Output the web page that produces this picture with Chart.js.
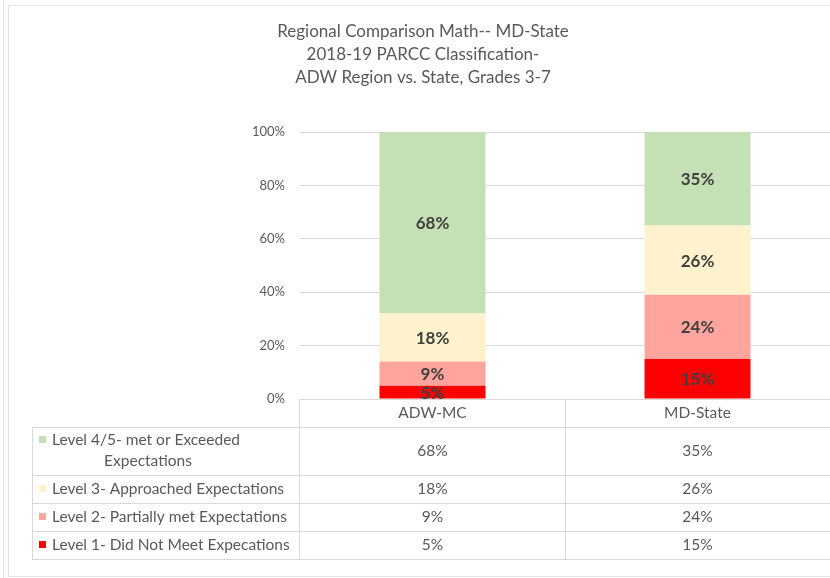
<!DOCTYPE html>
<html>
<head>
    <title>Regional Comparison Math</title>
    <script src="https://cdn.jsdelivr.net/npm/chart.js"></script>
    <style>
        body { margin: 0; background: #fff; overflow: hidden; }
    </style>
</head>
<body>
    <canvas id="chart" width="830" height="578"></canvas>

    <script>
        // chart data
        const categories = ['ADW-MC', 'MD-State'];
        const level1 = [5, 15];
        const level2 = [9, 24];
        const level3 = [18, 26];
        const level45 = [68, 35];
        const yTicks = [0, 20, 40, 60, 80, 100];
        const titleLines = [
            'Regional Comparison Math-- MD-State',
            '2018-19 PARCC Classification-',
            'ADW Region vs. State, Grades 3-7'
        ];

        const seriesNames = [
            'Level 1- Did Not Meet Expecations',
            'Level 2- Partially met Expectations',
            'Level 3- Approached Expectations',
            'Level 4/5- met or Exceeded Expectations'
        ];
        const seriesColors = ['#FF0000', '#FFA59D', '#FFF2CC', '#C5E0B4'];
        const seriesValues = [level1, level2, level3, level45];

        const FONT = 'Lato, "Open Sans", sans-serif';
        const GRAY = '#595959';
        const LINE = '#d9d9d9';

        function hline(ctx, x1, x2, y) {
            ctx.beginPath();
            ctx.moveTo(x1, y + 0.5);
            ctx.lineTo(x2, y + 0.5);
            ctx.stroke();
        }
        function vline(ctx, x, y1, y2) {
            ctx.beginPath();
            ctx.moveTo(x + 0.5, y1);
            ctx.lineTo(x + 0.5, y2);
            ctx.stroke();
        }

        const extras = {
            id: 'extras',
            afterDraw(chart) {
                const ctx = chart.ctx;
                const area = chart.chartArea;
                const xs = chart.scales.x;
                ctx.save();

                // outer frame
                ctx.strokeStyle = '#e3e3e3';
                ctx.lineWidth = 1;
                vline(ctx, 3, 0, 578);
                vline(ctx, 8, 5, 576);
                hline(ctx, 8, 830, 5);
                hline(ctx, 8, 830, 576);

                // title
                ctx.fillStyle = GRAY;
                ctx.font = '17px ' + FONT;
                ctx.textAlign = 'center';
                ctx.textBaseline = 'middle';
                titleLines.forEach((t, i) => ctx.fillText(t, 423, 32 + i * 23));

                // data labels
                ctx.font = 'bold 17px ' + FONT;
                ctx.fillStyle = '#404040';
                chart.data.datasets.forEach((ds, di) => {
                    chart.getDatasetMeta(di).data.forEach((bar, i) => {
                        ctx.fillText(ds.data[i] + '%', bar.x, (bar.y + bar.base) / 2 + 1);
                    });
                });

                // data table
                const top = area.bottom;
                const tableLeft = 32;
                const colLeft = area.left - 1;
                const colMid = Math.round((xs.getPixelForValue(0) + xs.getPixelForValue(1)) / 2);
                const right = area.right;
                const rowH = [28, 48, 28, 28, 28];
                const rowY = [top];
                rowH.forEach(h => rowY.push(rowY[rowY.length - 1] + h));

                ctx.strokeStyle = LINE;
                hline(ctx, colLeft, right, rowY[0]);
                for (let r = 1; r < rowY.length; r++) hline(ctx, tableLeft, right, rowY[r]);
                vline(ctx, tableLeft, rowY[1], rowY[rowY.length - 1]);
                vline(ctx, colLeft, rowY[0], rowY[rowY.length - 1]);
                vline(ctx, colMid, rowY[0], rowY[rowY.length - 1]);

                ctx.font = '15.5px ' + FONT;
                ctx.fillStyle = GRAY;
                ctx.textAlign = 'center';
                categories.forEach((c, i) => {
                    ctx.fillText(c, xs.getPixelForValue(i), (rowY[0] + rowY[1]) / 2);
                });

                // rows: top series first
                for (let k = 0; k < seriesNames.length; k++) {
                    const s = seriesNames.length - 1 - k;
                    const y0 = rowY[k + 1], y1 = rowY[k + 2];
                    const cy = (y0 + y1) / 2;
                    ctx.fillStyle = GRAY;
                    ctx.textAlign = 'center';
                    seriesValues[s].forEach((v, i) => ctx.fillText(v + '%', xs.getPixelForValue(i), cy));

                    ctx.textAlign = 'left';
                    let keyY = cy;
                    if (s === 3) {
                        ctx.fillText('Level 4/5- met or Exceeded', 52, y0 + 13);
                        ctx.textAlign = 'center';
                        ctx.fillText('Expectations', 148, y0 + 34);
                        keyY = y0 + 13;
                    } else {
                        ctx.fillText(seriesNames[s], 52, cy);
                    }
                    ctx.fillStyle = seriesColors[s];
                    ctx.fillRect(39, keyY - 4, 7, 7);
                }
                ctx.restore();
            }
        };

        new Chart(document.getElementById('chart'), {
            type: 'bar',
            data: {
                labels: categories,
                datasets: seriesNames.map((name, i) => ({
                    label: name,
                    data: seriesValues[i],
                    backgroundColor: seriesColors[i],
                    borderWidth: 0,
                    barPercentage: 0.5,
                    categoryPercentage: 0.8
                }))
            },
            options: {
                responsive: false,
                animation: false,
                layout: { padding: { left: 10, top: 132, right: 0, bottom: 179 } },
                plugins: {
                    legend: { display: false },
                    tooltip: { enabled: false },
                    title: { display: false }
                },
                scales: {
                    x: { stacked: true, display: false },
                    y: {
                        stacked: true,
                        min: 0,
                        max: 100,
                        afterBuildTicks: s => { s.ticks = yTicks.map(v => ({ value: v })); },
                        afterFit: s => { s.width = 290; },
                        ticks: {
                            callback: v => v + '%',
                            color: GRAY,
                            padding: 15,
                            font: { family: FONT, size: 13 }
                        },
                        grid: { color: LINE, drawTicks: false },
                        border: { display: false }
                    }
                }
            },
            plugins: [extras]
        });
    </script>
</body>
</html>
